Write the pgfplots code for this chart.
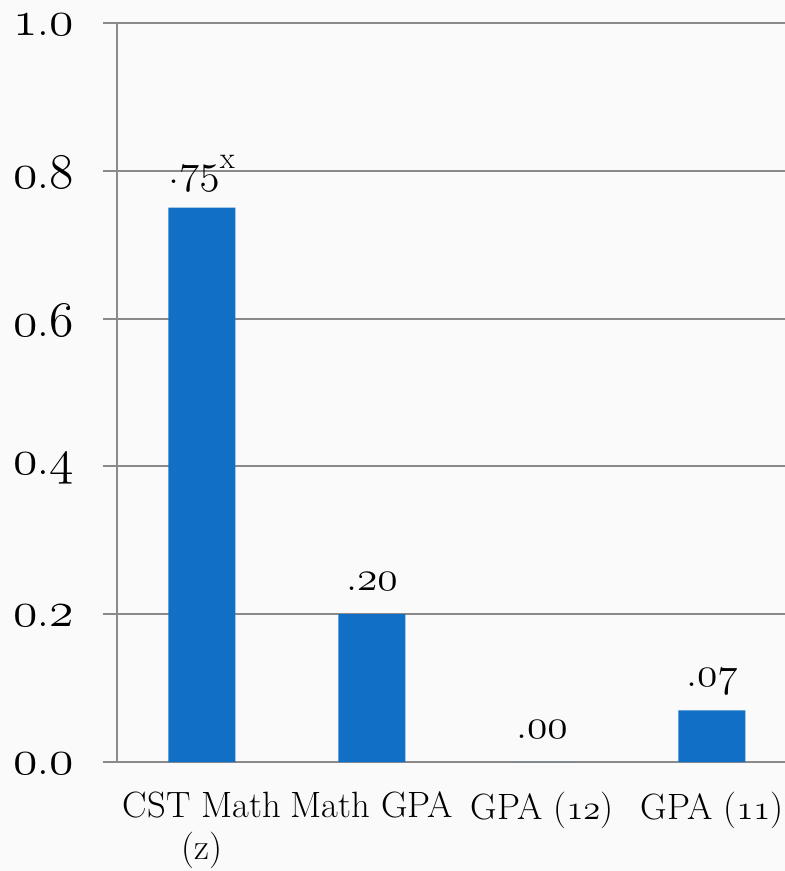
\documentclass[border=0pt]{standalone}
\usepackage{pgfplots}
\pgfplotsset{compat=1.18}
\protected\def\osn#1{{\usefont{OML}{lmm}{m}{it}#1}}
\protected\def\lbA{.\osn{75}\textsuperscript{x}}
\protected\def\lbB{.\osn{20}}
\protected\def\lbC{.\osn{00}}
\protected\def\lbD{.\osn{07}}
\definecolor{barblue}{RGB}{17,112,198}
\definecolor{gridgray}{RGB}{138,138,138}
\begin{document}
\begin{tikzpicture}[x=1pt,y=1pt]
\fill[black!2] (-58.5,-54.5) rectangle (334,381);
\begin{axis}[
  at={(0,0)}, anchor=south west,
  scale only axis, width=334pt, height=369.5pt,
  xmin=-0.5, xmax=3.43, ymin=0, ymax=1,
  axis x line*=bottom, axis y line*=left,
  axis line style={gridgray, line width=1pt, -},
  ymajorgrids, major grid style={gridgray, line width=1pt},
  tick align=outside,
  major tick length=7pt, minor tick length=6.5pt,
  tick style={gridgray, line width=1pt},
  xtick={0,1,2,3}, xtick style={draw=none},
  minor xtick={-0.5,0.5,1.5,2.5},
  xticklabels={{CST Math\\(z)}, {Math GPA}, {GPA (\osn{12})}, {GPA (\osn{11})}},
  xticklabel style={align=center, font=\fontsize{18.3}{21}\selectfont, anchor=north, yshift=-4.5pt},
  ytick={0,0.2,0.4,0.6,0.8,1},
  yticklabels={\osn{0}.\osn{0}, \osn{0}.\osn{2}, \osn{0}.\osn{4}, \osn{0}.\osn{6}, \osn{0}.\osn{8}, \osn{1}.\osn{0}},
  yticklabel style={font=\fontsize{23.5}{28}\selectfont, anchor=east, inner ysep=1pt, xshift=-11pt, yshift=-1pt},
  clip=false,
]
\addplot[ybar, bar width=33.5pt, fill=barblue, draw=none,
  point meta=explicit symbolic,
  nodes near coords,
  nodes near coords style={font=\fontsize{22}{26}\selectfont, anchor=base, yshift=12pt, text=black}]
  coordinates {(0,0.75) [\lbA] (1,0.20) [\lbB] (2,0.00) [\lbC] (3,0.07) [\lbD]};
\end{axis}
\pgfresetboundingbox
\path[use as bounding box] (-58.5,-54.5) rectangle (334,381);
\end{tikzpicture}
\end{document}
